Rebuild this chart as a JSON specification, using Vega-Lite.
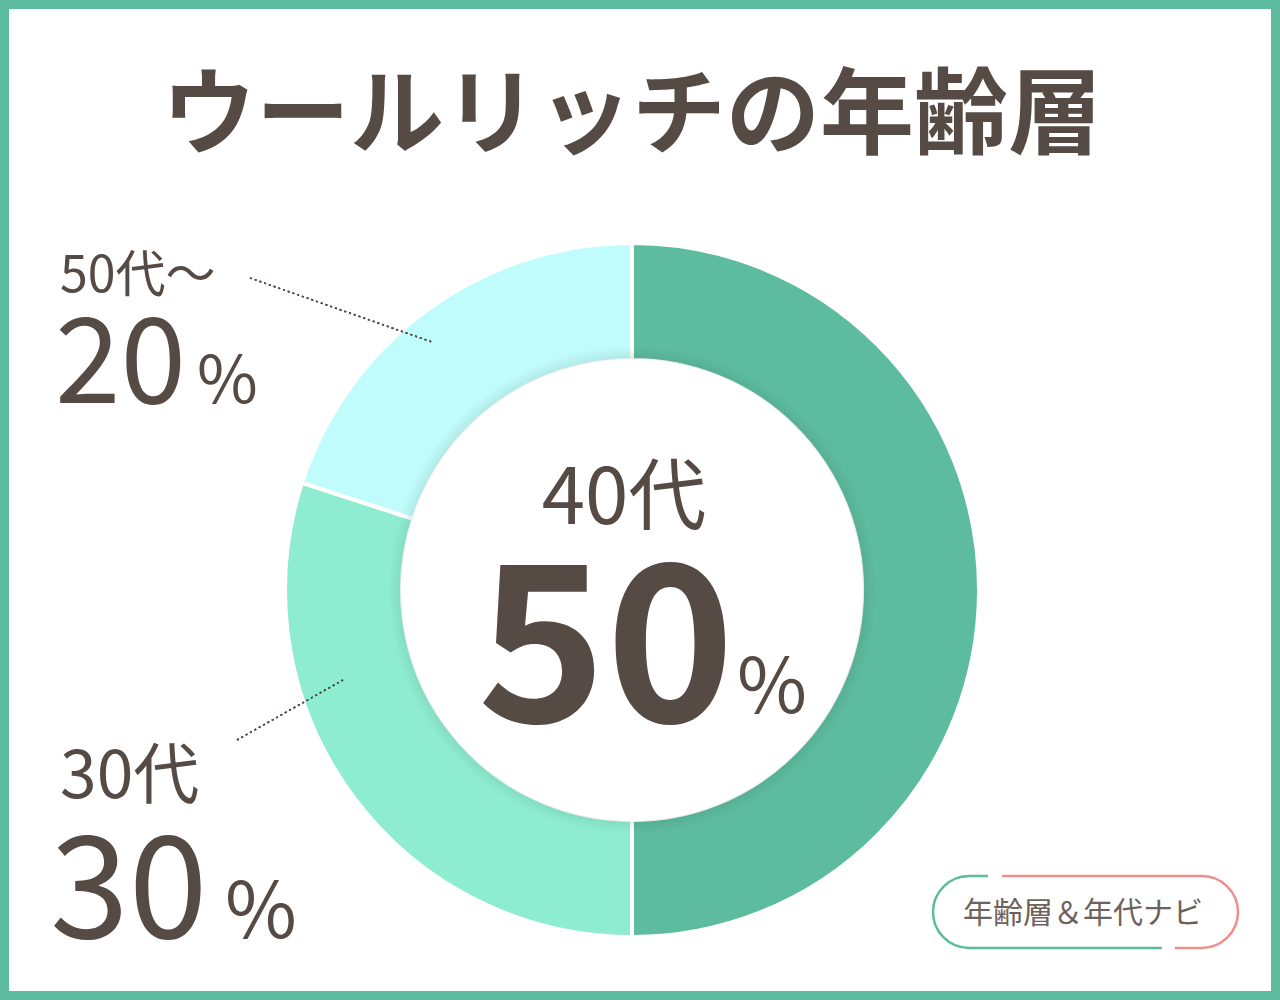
{
  "$schema": "https://vega.github.io/schema/vega-lite/v6.json",
  "autosize": {"type": "none"},
  "width": 1262,
  "height": 982,
  "padding": {"left": 8, "top": 8, "right": 10, "bottom": 10},
  "background": "#ffffff",
  "config": {"view": {"stroke": null}, "font": "Noto Sans CJK JP"},
  "data": {"values": [
    {"age": "40代", "pct": 50},
    {"age": "30代", "pct": 30},
    {"age": "50代〜", "pct": 20}
  ]},
  "layer": [
    {
      "data": {"values": [{"frame": 1}]},
      "mark": {"type": "rect", "x": -3.5, "y": -3.5, "x2": {"expr": "width + 5.5"}, "y2": {"expr": "height + 5.5"}, "fill": null, "fillOpacity": 0, "stroke": "#5dbb9e", "strokeWidth": 9},
      "encoding": {}
    },
    {
      "mark": {"type": "arc", "radius": 347, "radius2": 230, "x": 624, "y": 582, "stroke": "#ffffff", "strokeWidth": 4},
      "encoding": {
        "theta": {"field": "pct", "type": "quantitative", "stack": true},
        "order": {"field": "pct", "sort": "descending"},
        "color": {"field": "age", "type": "nominal", "legend": null,
          "scale": {"domain": ["40代", "30代", "50代〜"], "range": ["#5dbb9e", "#8eedd0", "#c0fcfb"]}}
      }
    },
    {
      "data": {"values": [{"ring": 1}]},
      "mark": {"type": "arc", "radius": 244, "radius2": 231, "theta": 0, "theta2": 6.2832, "x": 624, "y": 582,
        "fill": {"gradient": "radial", "x1": 0.5, "y1": 0.5, "x2": 0.5, "y2": 0.5, "r1": 0, "r2": 0.5,
          "stops": [{"offset": 0.945, "color": "rgba(30,60,50,0.10)"}, {"offset": 1, "color": "rgba(30,60,50,0)"}]}},
      "encoding": {}
    },
    {
      "mark": {"type": "rule", "color": "#554a44", "strokeWidth": 1.5, "strokeDash": [2, 3]},
      "encoding": {"x": {"value": 242}, "y": {"value": 270}, "x2": {"value": 424}, "y2": {"value": 334}}
    },
    {
      "mark": {"type": "rule", "color": "#554a44", "strokeWidth": 1.5, "strokeDash": [2, 3]},
      "encoding": {"x": {"value": 229}, "y": {"value": 732}, "x2": {"value": 335}, "y2": {"value": 672}}
    },
    {
      "data": {"values": [{"t": "ウールリッチの年齢層"}]},
      "mark": {"type": "text", "x": 624, "y": 111, "align": "center", "baseline": "middle", "fontSize": 94, "fontWeight": "bold", "color": "#554a44"},
      "encoding": {"text": {"field": "t"}}
    },
    {
      "transform": [{"filter": "datum.age === '50代〜'"}],
      "layer": [
        {"mark": {"type": "text", "x": 52, "y": 284, "align": "left", "baseline": "alphabetic", "fontSize": 50, "color": "#554a44"},
         "encoding": {"text": {"field": "age"}}},
        {"mark": {"type": "text", "x": 47, "y": 395, "align": "left", "baseline": "alphabetic", "fontSize": 118, "color": "#554a44"},
         "encoding": {"text": {"field": "pct", "type": "nominal"}}},
        {"mark": {"type": "text", "x": 189, "y": 395, "align": "left", "baseline": "alphabetic", "fontSize": 66, "color": "#554a44", "text": "%"}}
      ]
    },
    {
      "transform": [{"filter": "datum.age === '30代'"}],
      "layer": [
        {"mark": {"type": "text", "x": 52, "y": 790, "align": "left", "baseline": "alphabetic", "fontSize": 66, "color": "#554a44"},
         "encoding": {"text": {"field": "age"}}},
        {"mark": {"type": "text", "x": 42, "y": 930, "align": "left", "baseline": "alphabetic", "fontSize": 142, "color": "#554a44"},
         "encoding": {"text": {"field": "pct", "type": "nominal"}}},
        {"mark": {"type": "text", "x": 217, "y": 930, "align": "left", "baseline": "alphabetic", "fontSize": 78, "color": "#554a44", "text": "%"}}
      ]
    },
    {
      "transform": [{"filter": "datum.age === '40代'"}],
      "layer": [
        {"mark": {"type": "text", "x": 616, "y": 516, "align": "center", "baseline": "alphabetic", "fontSize": 78, "color": "#554a44"},
         "encoding": {"text": {"field": "age"}}},
        {"mark": {"type": "text", "x": 598, "y": 714, "align": "center", "baseline": "alphabetic", "fontSize": 218, "fontWeight": "bold", "color": "#554a44"},
         "encoding": {"text": {"field": "pct", "type": "nominal"}}},
        {"mark": {"type": "text", "x": 729, "y": 705, "align": "left", "baseline": "alphabetic", "fontSize": 76, "color": "#554a44", "text": "%"}}
      ]
    },
    {
      "data": {"values": [{"t": "年齢層＆年代ナビ"}]},
      "layer": [
        {"mark": {"type": "rect", "x": 925, "y": 868, "x2": 1230, "y2": 940, "cornerRadius": 36, "fill": null, "fillOpacity": 0, "stroke": "#ef8f8c", "strokeWidth": 2.5, "strokeDash": [0, 33, 340, 2000]},
         "encoding": {}},
        {"mark": {"type": "rect", "x": 925, "y": 868, "x2": 1230, "y2": 940, "cornerRadius": 36, "fill": null, "fillOpacity": 0, "stroke": "#5dbb9e", "strokeWidth": 2.5, "strokeDash": [19, 367, 306, 100]},
         "encoding": {}},
        {"mark": {"type": "text", "x": 1075, "y": 906, "align": "center", "baseline": "middle", "fontSize": 30, "color": "#6e625c"},
         "encoding": {"text": {"field": "t"}}}
      ]
    }
  ]
}
